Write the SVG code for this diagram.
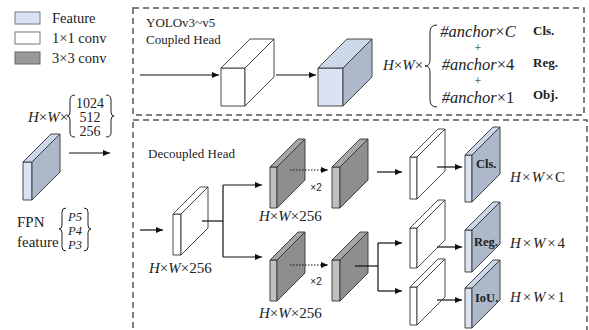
<svg xmlns="http://www.w3.org/2000/svg" width="589" height="330" viewBox="0 0 589 330">
<style>
.t{font-family:"Liberation Serif",serif;fill:#222}
.m{font-family:"Liberation Serif",serif;fill:#222}
.i{font-style:italic}
.b{font-weight:bold}
.s{font-family:"Liberation Sans",sans-serif;fill:#222}
.box{fill:none;stroke:#555;stroke-width:1.5;stroke-dasharray:6 4}
.w{fill:#fff;stroke:#333;stroke-width:0.9;stroke-linejoin:round}
.bf{fill:#dae3f3;stroke:#333;stroke-width:0.9;stroke-linejoin:round}
.bt{fill:#cdd7ea;stroke:#333;stroke-width:0.9;stroke-linejoin:round}
.bs{fill:#adb9ca;stroke:#333;stroke-width:0.9;stroke-linejoin:round}
.gf{fill:#c0c0c0;stroke:#333;stroke-width:0.9;stroke-linejoin:round}
.gt{fill:#a6a6a6;stroke:#333;stroke-width:0.9;stroke-linejoin:round}
.gs{fill:#8e8e8e;stroke:#333;stroke-width:0.9;stroke-linejoin:round}
.ln{fill:none;stroke:#111;stroke-width:1.2}
.dt{fill:none;stroke:#111;stroke-width:1.2;stroke-dasharray:1.5 1.5}
.br{fill:none;stroke:#222;stroke-width:1}
</style>
<defs>
<marker id="ah" markerUnits="userSpaceOnUse" markerWidth="8" markerHeight="8" refX="7" refY="4" orient="auto">
<path d="M0,1 L7,4 L0,7 Z" fill="#111"/>
</marker>
</defs>

<g id="legend">
<rect x="15" y="12" width="25" height="12" fill="#dae3f3" stroke="#777" stroke-width="1"/>
<text class="t" x="52" y="23" font-size="14.5">Feature</text>
<rect x="15" y="32" width="25" height="12" fill="#fff" stroke="#777" stroke-width="1"/>
<text class="t" x="52" y="43" font-size="14.5">1×1 conv</text>
<rect x="15" y="52" width="25" height="12" fill="#999" stroke="#666" stroke-width="1"/>
<text class="t" x="52" y="63" font-size="14.5">3×3 conv</text>
</g>

<g id="boxes">
<rect class="box" x="133" y="8" width="451" height="107"/>
<rect class="box" x="133" y="120" width="454" height="215"/>
</g>

<g id="fpn">
<rect class="bf" x="23" y="162" width="9" height="38"/>
<polygon class="bt" points="23,162 51,134 60,134 32,162"/>
<polygon class="bs" points="32,162 60,134 60,172 32,200"/>
<text class="m" x="28" y="122" font-size="15"><tspan class="i">H</tspan>×<tspan class="i">W</tspan>×</text>
<path class="br" d="M75,95 Q70,95 70,100 L70,112 Q70,116 67,116 Q70,116 70,120 L70,133 Q70,137 75,137"/>
<text class="m" x="90" y="108" font-size="14" text-anchor="middle">1024</text>
<text class="m" x="90" y="122" font-size="14" text-anchor="middle">512</text>
<text class="m" x="90" y="136" font-size="14" text-anchor="middle">256</text>
<path class="br" d="M106,95 Q111,95 111,100 L111,112 Q111,116 114,116 Q111,116 111,120 L111,133 Q111,137 106,137"/>
<text class="t" x="17" y="227" font-size="15">FPN</text>
<text class="t" x="17" y="247" font-size="15">feature</text>
<path class="br" d="M66,208 Q62,208 62,212 L62,225 Q62,229 59,229 Q62,229 62,233 L62,247 Q62,251 66,251"/>
<text class="m i" x="75" y="221" font-size="12.5" text-anchor="middle">P5</text>
<text class="m i" x="75" y="235" font-size="12.5" text-anchor="middle">P4</text>
<text class="m i" x="75" y="249" font-size="12.5" text-anchor="middle">P3</text>
<path class="br" d="M84,208 Q88,208 88,212 L88,225 Q88,229 91,229 Q88,229 88,233 L88,247 Q88,251 84,251"/>
</g>

<g id="coupled">
<text class="t" x="146" y="27" font-size="13">YOLOv3~v5</text>
<text class="t" x="146" y="44" font-size="13">Coupled Head</text>
</g>

<g id="cube-white">
<rect class="w" x="221" y="68" width="24" height="38"/>
<polygon class="w" points="221,68 250,39 274,39 245,68"/>
<polygon class="w" points="245,68 274,39 274,77 245,106"/>
</g>

<g id="cube-blue">
<rect class="bf" x="318" y="68" width="25" height="38"/>
<polygon class="bt" points="318,68 347,39 372,39 343,68"/>
<polygon class="bs" points="343,68 372,39 372,77 343,106"/>
</g>

<g id="coupled-output">
<text class="m" x="383" y="70" font-size="15"><tspan class="i">H</tspan>×<tspan class="i">W</tspan>×</text>
<path class="br" d="M437,25 Q430,25 430,32 L430,60 Q430,66 425,66 Q430,66 430,72 L430,100 Q430,107 437,107"/>
<text class="m" x="478" y="37" font-size="16.5" text-anchor="middle"><tspan class="i">#anchor</tspan>×<tspan class="i">C</tspan></text>
<text class="m" x="478" y="52" font-size="12" text-anchor="middle">+</text>
<text class="m" x="478" y="70" font-size="16.5" text-anchor="middle"><tspan class="i">#anchor</tspan>×4</text>
<text class="m" x="478" y="85" font-size="12" text-anchor="middle">+</text>
<text class="m" x="478" y="103" font-size="16.5" text-anchor="middle"><tspan class="i">#anchor</tspan>×1</text>
<text class="t b" x="533" y="35" font-size="13">Cls.</text>
<text class="t b" x="533" y="67" font-size="13">Reg.</text>
<text class="t b" x="533" y="99" font-size="13">Obj.</text>
</g>

<g id="decoupled">
<text class="t" x="148" y="158" font-size="13">Decoupled Head</text>
</g>

<g id="p1">
<rect class="w" x="173" y="214" width="8" height="41"/>
<polygon class="w" points="173,214 200,187 208,187 181,214"/>
<polygon class="w" points="181,214 208,187 208,228 181,255"/>
<text class="m" x="149" y="273" font-size="15"><tspan class="i">H</tspan>×<tspan class="i">W</tspan>×256</text>
</g>

<g id="a1">
<rect class="gf" x="270" y="167" width="7" height="41"/>
<polygon class="gt" points="270,167 298,139 305,139 277,167"/>
<polygon class="gs" points="277,167 305,139 305,180 277,208"/>
<text class="m" x="259" y="221" font-size="15"><tspan class="i">H</tspan>×<tspan class="i">W</tspan>×256</text>
</g>
<g id="a2">
<rect class="gf" x="332" y="167" width="8" height="41"/>
<polygon class="gt" points="332,167 360,139 368,139 340,167"/>
<polygon class="gs" points="340,167 368,139 368,180 340,208"/>
</g>
<g id="b1">
<rect class="gf" x="270" y="260" width="7" height="41"/>
<polygon class="gt" points="270,260 298,232 305,232 277,260"/>
<polygon class="gs" points="277,260 305,232 305,273 277,301"/>
<text class="m" x="259" y="318" font-size="15"><tspan class="i">H</tspan>×<tspan class="i">W</tspan>×256</text>
</g>
<g id="b2">
<rect class="gf" x="332" y="260" width="8" height="41"/>
<polygon class="gt" points="332,260 360,232 368,232 340,260"/>
<polygon class="gs" points="340,260 368,232 368,273 340,301"/>
</g>

<g id="c1">
<rect class="w" x="410" y="157" width="7" height="42"/>
<polygon class="w" points="410,157 438,129 445,129 417,157"/>
<polygon class="w" points="417,157 445,129 445,171 417,199"/>
</g>
<g id="c2">
<rect class="w" x="410" y="228" width="7" height="40"/>
<polygon class="w" points="410,228 438,200 445,200 417,228"/>
<polygon class="w" points="417,228 445,200 445,240 417,268"/>
</g>
<g id="c3">
<rect class="w" x="410" y="287" width="7" height="38"/>
<polygon class="w" points="410,287 438,259 445,259 417,287"/>
<polygon class="w" points="417,287 445,259 445,297 417,325"/>
</g>

<g id="d1">
<rect class="bf" x="465" y="155" width="7" height="47"/>
<polygon class="bt" points="465,155 493,127 500,127 472,155"/>
<polygon class="bs" points="472,155 500,127 500,174 472,202"/>
<text class="t b" x="476" y="168" font-size="12.5">Cls.</text>
</g>
<g id="d2">
<rect class="bf" x="465" y="230" width="7" height="42"/>
<polygon class="bt" points="465,230 493,202 500,202 472,230"/>
<polygon class="bs" points="472,230 500,202 500,244 472,272"/>
<text class="t b" x="474" y="246" font-size="12.5">Reg.</text>
</g>
<g id="d3">
<rect class="bf" x="465" y="288" width="7" height="40"/>
<polygon class="bt" points="465,288 493,260 500,260 472,288"/>
<polygon class="bs" points="472,288 500,260 500,300 472,328"/>
<text class="t b" x="475" y="302" font-size="12.5">IoU.</text>
</g>

<g id="outputs">
<text class="m" x="510" y="182" font-size="15" textLength="55" lengthAdjust="spacing"><tspan class="i">H</tspan>×<tspan class="i">W</tspan>×C</text>
<text class="m" x="510" y="248" font-size="15" textLength="55" lengthAdjust="spacing"><tspan class="i">H</tspan>×<tspan class="i">W</tspan>×4</text>
<text class="m" x="510" y="302" font-size="15" textLength="55" lengthAdjust="spacing"><tspan class="i">H</tspan>×<tspan class="i">W</tspan>×1</text>
</g>

<g id="connectors">
<line class="ln" x1="69" y1="153" x2="110" y2="153" marker-end="url(#ah)"/>
<line class="ln" x1="140" y1="75" x2="219" y2="75" marker-end="url(#ah)"/>
<line class="ln" x1="276" y1="75" x2="316" y2="75" marker-end="url(#ah)"/>
<line class="ln" x1="140" y1="230" x2="163" y2="230" marker-end="url(#ah)"/>
<polyline class="ln" points="202,221 223,221"/>
<line class="ln" x1="223" y1="185" x2="223" y2="257"/>
<line class="ln" x1="223" y1="185" x2="262" y2="185" marker-end="url(#ah)"/>
<line class="ln" x1="223" y1="257" x2="262" y2="257" marker-end="url(#ah)"/>
<line class="dt" x1="290" y1="170" x2="328" y2="170" marker-end="url(#ah)"/>
<line class="dt" x1="290" y1="265" x2="328" y2="265" marker-end="url(#ah)"/>
<line class="ln" x1="377" y1="172" x2="402" y2="172" marker-end="url(#ah)"/>
<line class="ln" x1="355" y1="266" x2="378" y2="266"/>
<line class="ln" x1="378" y1="243" x2="378" y2="291"/>
<line class="ln" x1="378" y1="243" x2="402" y2="243" marker-end="url(#ah)"/>
<line class="ln" x1="378" y1="291" x2="402" y2="291" marker-end="url(#ah)"/>
<line class="ln" x1="437" y1="167" x2="462" y2="167" marker-end="url(#ah)"/>
<line class="ln" x1="437" y1="247" x2="462" y2="247" marker-end="url(#ah)"/>
<line class="ln" x1="437" y1="300" x2="462" y2="300" marker-end="url(#ah)"/>
<text class="s" x="316" y="191" font-size="10" text-anchor="middle">×2</text>
<text class="s" x="316" y="285" font-size="10" text-anchor="middle">×2</text>
</g>
</svg>
